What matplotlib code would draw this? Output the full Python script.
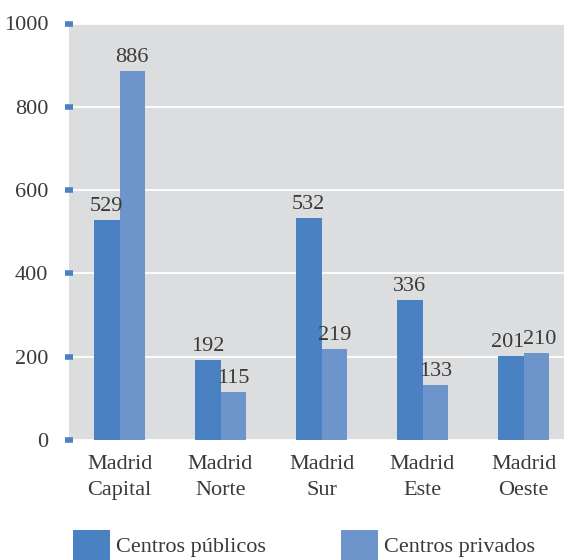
import matplotlib.pyplot as plt
import numpy as np

categories = ["Madrid\nCapital", "Madrid\nNorte", "Madrid\nSur", "Madrid\nEste", "Madrid\nOeste"]
publicos = [529, 192, 532, 336, 201]
privados = [886, 115, 219, 133, 210]
series_names = ["Centros públicos", "Centros privados"]

c_pub = "#4a81c3"
c_priv = "#6d95cc"
txt = "#3a3a3a"
fs = 16
plt.rcParams['font.family'] = ['Liberation Serif', 'DejaVu Serif']

fig = plt.figure(figsize=(5.64, 5.6), dpi=100)
ax = fig.add_axes([69 / 564, 120 / 560, 505 / 564, 416.5 / 560])
ax.set_facecolor("#dcdddf")

x = np.arange(len(categories))
w = 0.252
b1 = ax.bar(x - w / 2, publicos, w, color=c_pub, label=series_names[0], zorder=3)
b2 = ax.bar(x + w / 2, privados, w, color=c_priv, label=series_names[1], zorder=3)

# labels above bars; nudge apart when the two values are close (like the original)
for i in range(len(categories)):
    close = abs(publicos[i] - privados[i]) < 30
    dx = 3 if close else 0
    for r, v, s in ((b1[i], publicos[i], -1), (b2[i], privados[i], 1)):
        ax.annotate(str(v), (r.get_x() + r.get_width() / 2, v), xytext=(s * dx, 4),
                    textcoords="offset pixels", ha="center", va="bottom",
                    fontsize=fs, color=txt, zorder=4)

ax.set_xlim(-0.5, 4.5)
ax.set_ylim(0, 1000)
ax.set_yticks(range(0, 1001, 200))
ax.grid(axis="y", color="white", linewidth=1.3, zorder=1)
for s in ax.spines.values():
    s.set_visible(False)

ax.set_xticks(x)
ax.set_xticklabels(categories, fontsize=fs, color=txt, linespacing=1.45)
ax.tick_params(axis="x", length=0, pad=11)
ax.tick_params(axis="y", length=6, width=4, color=c_pub, direction="inout",
               labelsize=fs, labelcolor=txt, pad=12)

fig.legend(handles=[b1, b2], labels=series_names, loc="lower left",
           bbox_to_anchor=(0.094, -0.035), ncol=2, frameon=False, fontsize=fs,
           handlelength=1.67, handleheight=1.7, columnspacing=3.4, handletextpad=0.25,
           labelcolor=txt)

fig.savefig("out.png", dpi=100)
